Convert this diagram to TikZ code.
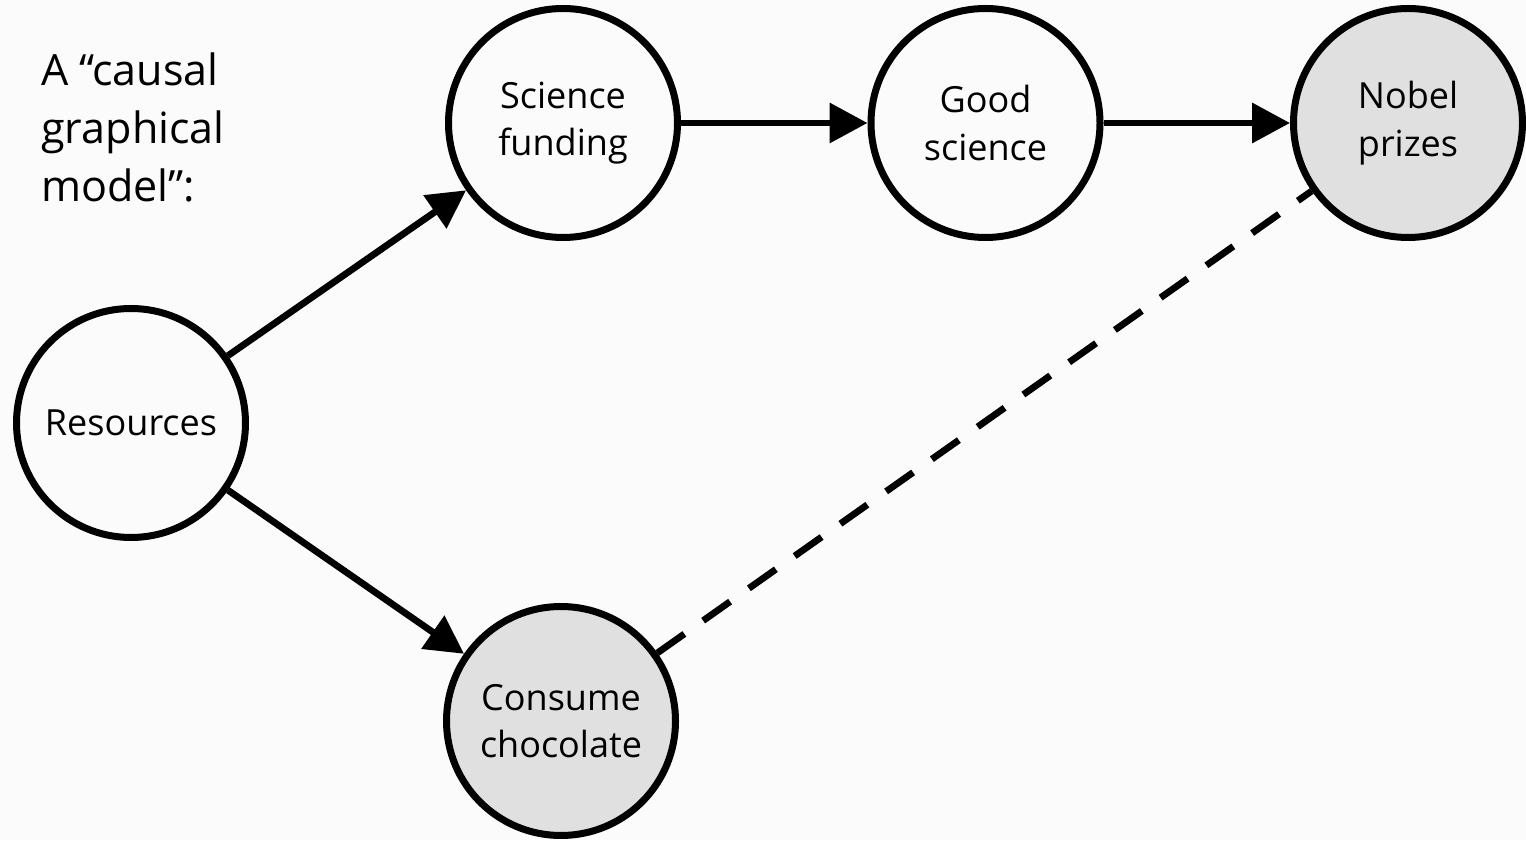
\documentclass[tikz,border=0pt]{standalone}
\usepackage{fontspec}
\setmainfont{Open Sans}
\usepackage{xcolor}
\usepackage{tikz}
\usetikzlibrary{automata, positioning, arrows.meta}

\definecolor{pagebg}{RGB}{251,251,251}
\definecolor{observed}{RGB}{224,224,224}

\begin{document}
\begin{tikzpicture}[->, >={Triangle[length=7.6mm, width=7.8mm]}, line width=1.35mm, node distance=8.45cm,
    every state/.style={line width=1.4mm, minimum size=4.58cm, inner sep=0pt, font=\fontsize{20.5}{27}\selectfont, align=center}]
    \fill[pagebg] (0,0) rectangle (30.52,16.8);
    \useasboundingbox (0,0) rectangle (30.52,16.8);

    \node[anchor=north west, inner sep=0pt, align=left, font=\fontsize{24.5}{33}\selectfont]
        (title) at (0.76,15.82) {A “causal\\graphical\\model”:};

    \node[state]                        (res)   at (2.62,8.34)   {Resources};
    \node[state]                        (fund)  at (11.26,14.34) {Science\\funding};
    \node[state]                        (good)  [right of=fund]  {Good\\science};
    \node[state, fill=observed]         (nobel) [right of=good]  {Nobel\\prizes};
    \node[state, fill=observed]         (choc)  at (11.22,2.38)  {Consume\\chocolate};

    \path (res)  edge (fund)
          (res)  edge (choc)
          (fund) edge (good)
          (good) edge (nobel)
          (choc) edge [-, dash pattern=on 6.6mm off 4.6mm] (nobel);
\end{tikzpicture}
\end{document}
